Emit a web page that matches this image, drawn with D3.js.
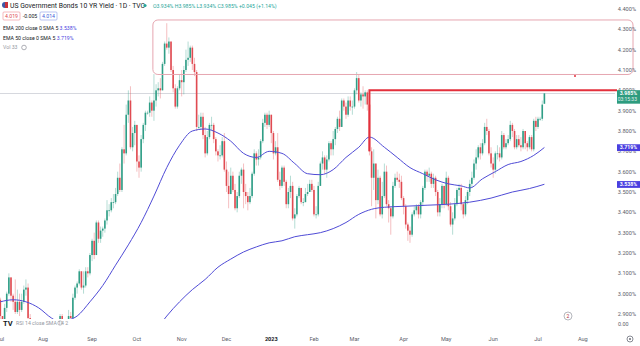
<!DOCTYPE html>
<html><head><meta charset="utf-8">
<script src="https://cdn.jsdelivr.net/npm/d3@7"></script>
<style>body{margin:0;background:#fff}svg{display:block;font-family:Roboto,"Noto Sans",sans-serif}</style>
</head><body><svg id="c" width="640" height="346"></svg>
<script>
// ---- data ----
const tradingDays = [
 ["2022-07",[1,5,6,7,8,11,12,13,14,15,18,19,20,21,22,25,26,27,28,29]],
 ["2022-08",[1,2,3,4,5,8,9,10,11,12,15,16,17,18,19,22,23,24,25,26,29,30,31]],
 ["2022-09",[1,2,6,7,8,9,12,13,14,15,16,19,20,21,22,23,26,27,28,29,30]],
 ["2022-10",[3,4,5,6,7,10,11,12,13,14,17,18,19,20,21,24,25,26,27,28,31]],
 ["2022-11",[1,2,3,4,7,8,9,10,11,14,15,16,17,18,21,22,23,25,28,29,30]],
 ["2022-12",[1,2,5,6,7,8,9,12,13,14,15,16,19,20,21,22,23,27,28,29,30]],
 ["2023-01",[3,4,5,6,9,10,11,12,13,17,18,19,20,23,24,25,26,27,30,31]],
 ["2023-02",[1,2,3,6,7,8,9,10,13,14,15,16,17,21,22,23,24,27,28]],
 ["2023-03",[1,2,3,6,7,8,9,10,13,14,15,16,17,20,21,22,23,24,27,28,29,30,31]],
 ["2023-04",[3,4,5,6,7,10,11,12,13,14,17,18,19,20,21,24,25,26,27,28]],
 ["2023-05",[1,2,3,4,5,8,9,10,11,12,15,16,17,18,19,22,23,24,25,26,30,31]],
 ["2023-06",[1,2,5,6,7,8,9,12,13,14,15,16,20,21,22,23,26,27,28,29,30]],
 ["2023-07",[3,4,5,6]]
];
const openV = [
 2.97,2.89,2.81,2.93,3.00,3.08,2.99,2.96,2.91,2.96,2.92,2.96,3.02,3.03,2.88,2.76,2.80,2.78,2.78,2.68,
 2.65,2.58,2.75,2.71,2.68,2.83,2.76,2.79,2.78,2.89,2.84,2.79,2.81,2.89,2.88,2.98,3.03,3.05,3.11,3.03,3.04,3.11,3.10,
 3.19,3.26,3.19,3.35,3.27,3.31,3.32,3.36,3.41,3.41,3.45,3.45,3.49,3.57,3.51,3.71,3.69,3.88,3.95,3.72,3.79,
 3.83,3.65,3.62,3.76,3.83,3.89,3.89,3.94,3.90,3.95,4.00,4.01,4.00,4.13,4.23,4.21,4.24,4.10,4.01,3.92,4.01,
 4.05,4.04,4.10,4.15,4.16,4.21,4.13,4.09,3.82,3.82,3.87,3.78,3.69,3.77,3.83,3.83,3.76,3.70,3.68,3.68,3.75,
 3.61,3.53,3.49,3.58,3.51,3.42,3.48,3.58,3.61,3.50,3.48,3.45,3.48,3.59,3.69,3.66,3.67,3.75,3.84,3.88,3.83,
 3.88,3.79,3.69,3.72,3.56,3.53,3.62,3.55,3.44,3.50,3.53,3.37,3.39,3.48,3.52,3.45,3.45,3.49,3.50,3.54,
 3.51,3.39,3.39,3.53,3.64,3.67,3.61,3.66,3.74,3.71,3.76,3.81,3.86,3.82,3.95,3.92,3.88,3.95,3.92,
 3.92,4.00,4.06,3.95,3.98,3.97,3.99,3.93,3.70,3.57,3.64,3.46,3.57,3.39,3.48,3.60,3.44,3.42,3.38,3.53,3.57,3.56,3.55,
 3.47,3.43,3.34,3.31,3.29,3.39,3.41,3.43,3.39,3.45,3.52,3.60,3.58,3.59,3.54,3.57,3.50,3.40,3.44,3.53,
 3.44,3.57,3.43,3.34,3.37,3.44,3.51,3.52,3.44,3.39,3.46,3.50,3.54,3.57,3.64,3.67,3.72,3.69,3.74,3.82,3.80,3.69,
 3.64,3.61,3.69,3.69,3.67,3.78,3.72,3.74,3.76,3.83,3.80,3.72,3.76,3.73,3.72,3.80,3.74,3.72,3.77,3.71,3.85,
 3.82,3.86,3.86,3.934
];
const highV = [
 2.98,2.89,2.95,3.01,3.10,3.08,3.00,3.07,3.02,3.00,3.00,3.04,3.07,3.05,2.90,2.83,2.84,2.85,2.80,2.73,
 2.67,2.78,2.79,2.73,2.86,2.85,2.80,2.81,2.90,2.90,2.86,2.83,2.92,2.91,3.00,3.04,3.06,3.12,3.11,3.11,3.13,3.13,3.20,
 3.27,3.30,3.36,3.36,3.33,3.33,3.37,3.46,3.44,3.47,3.49,3.52,3.60,3.64,3.72,3.83,3.93,4.00,4.02,3.82,3.85,
 3.83,3.68,3.78,3.84,3.90,3.90,3.97,3.95,4.08,4.03,4.04,4.06,4.14,4.24,4.33,4.26,4.24,4.12,4.03,4.02,4.08,
 4.10,4.12,4.20,4.24,4.22,4.22,4.16,4.10,3.88,3.89,3.89,3.82,3.80,3.84,3.87,3.84,3.77,3.71,3.73,3.77,3.79,
 3.65,3.60,3.62,3.60,3.54,3.50,3.60,3.62,3.64,3.54,3.50,3.52,3.60,3.71,3.70,3.71,3.76,3.86,3.89,3.89,3.90,
 3.88,3.80,3.75,3.79,3.60,3.63,3.63,3.56,3.52,3.58,3.55,3.42,3.49,3.53,3.52,3.47,3.52,3.54,3.56,3.56,
 3.53,3.43,3.55,3.65,3.70,3.68,3.68,3.75,3.75,3.80,3.82,3.87,3.90,3.96,3.96,3.94,3.97,3.97,3.95,
 4.01,4.09,4.08,3.99,4.02,4.00,4.00,3.94,3.72,3.71,3.64,3.61,3.58,3.55,3.64,3.63,3.46,3.43,3.55,3.59,3.60,3.59,3.58,
 3.48,3.44,3.35,3.33,3.40,3.43,3.44,3.44,3.46,3.53,3.61,3.61,3.62,3.60,3.59,3.58,3.51,3.47,3.54,3.53,
 3.60,3.58,3.45,3.40,3.47,3.52,3.54,3.54,3.45,3.48,3.51,3.56,3.60,3.66,3.71,3.73,3.74,3.76,3.84,3.86,3.81,3.72,
 3.67,3.70,3.73,3.72,3.80,3.79,3.76,3.78,3.85,3.84,3.81,3.78,3.78,3.77,3.81,3.80,3.75,3.78,3.78,3.86,3.87,
 3.87,3.87,3.95,3.985
];
const lowV = [
 2.79,2.75,2.77,2.91,2.99,2.96,2.92,2.90,2.90,2.89,2.91,2.95,2.99,2.86,2.74,2.74,2.78,2.74,2.65,2.64,
 2.57,2.52,2.69,2.61,2.67,2.75,2.74,2.69,2.74,2.82,2.76,2.76,2.80,2.84,2.87,2.97,3.00,3.04,3.02,3.00,3.03,3.08,3.09,
 3.16,3.17,3.19,3.25,3.25,3.28,3.30,3.34,3.38,3.40,3.42,3.44,3.48,3.50,3.50,3.64,3.68,3.84,3.71,3.70,3.73,
 3.60,3.57,3.60,3.74,3.80,3.88,3.87,3.87,3.85,3.92,3.97,3.96,4.00,4.12,4.20,4.18,4.09,3.99,3.91,3.91,4.00,
 3.97,3.98,4.09,4.12,4.14,4.10,4.07,3.80,3.81,3.81,3.76,3.67,3.68,3.76,3.80,3.74,3.68,3.65,3.66,3.67,3.60,
 3.50,3.42,3.49,3.50,3.41,3.40,3.47,3.54,3.42,3.44,3.41,3.44,3.47,3.58,3.63,3.63,3.66,3.74,3.82,3.81,3.82,
 3.74,3.66,3.68,3.55,3.51,3.52,3.53,3.42,3.42,3.47,3.36,3.32,3.38,3.47,3.44,3.43,3.45,3.48,3.50,3.50,
 3.38,3.37,3.38,3.53,3.61,3.59,3.57,3.65,3.68,3.68,3.73,3.79,3.80,3.82,3.90,3.86,3.87,3.90,3.88,
 3.91,3.98,3.94,3.92,3.91,3.93,3.90,3.68,3.43,3.51,3.37,3.44,3.38,3.37,3.47,3.43,3.35,3.29,3.37,3.52,3.55,3.52,3.46,
 3.39,3.32,3.26,3.25,3.28,3.38,3.39,3.37,3.37,3.43,3.51,3.55,3.55,3.52,3.52,3.48,3.38,3.38,3.42,3.42,
 3.43,3.41,3.33,3.29,3.36,3.43,3.48,3.41,3.37,3.38,3.44,3.48,3.52,3.56,3.61,3.66,3.66,3.68,3.73,3.78,3.68,3.62,
 3.57,3.59,3.66,3.65,3.66,3.71,3.71,3.73,3.75,3.77,3.71,3.71,3.72,3.70,3.71,3.71,3.70,3.71,3.70,3.70,3.80,
 3.81,3.85,3.85,3.934
];
const closeV = [
 2.89,2.81,2.93,3.00,3.08,2.99,2.96,2.91,2.96,2.92,2.96,3.02,3.03,2.88,2.76,2.80,2.78,2.78,2.68,2.65,
 2.58,2.75,2.71,2.68,2.83,2.76,2.79,2.78,2.89,2.84,2.79,2.81,2.89,2.88,2.98,3.03,3.05,3.11,3.03,3.04,3.11,3.10,3.19,
 3.26,3.19,3.35,3.27,3.31,3.32,3.36,3.41,3.41,3.45,3.45,3.49,3.57,3.51,3.71,3.69,3.88,3.95,3.72,3.79,3.83,
 3.65,3.62,3.76,3.83,3.89,3.89,3.94,3.90,3.95,4.00,4.01,4.00,4.13,4.23,4.21,4.24,4.10,4.01,3.92,4.01,4.05,
 4.04,4.10,4.15,4.16,4.21,4.13,4.09,3.82,3.82,3.87,3.78,3.69,3.77,3.83,3.83,3.76,3.70,3.68,3.68,3.75,3.61,
 3.53,3.49,3.58,3.51,3.42,3.48,3.58,3.61,3.50,3.48,3.45,3.48,3.59,3.69,3.66,3.67,3.75,3.84,3.88,3.83,3.88,
 3.79,3.69,3.72,3.56,3.53,3.62,3.55,3.44,3.50,3.53,3.37,3.39,3.48,3.52,3.45,3.45,3.49,3.50,3.54,3.51,
 3.39,3.39,3.53,3.64,3.67,3.61,3.66,3.74,3.71,3.76,3.81,3.86,3.82,3.95,3.92,3.88,3.95,3.92,3.92,
 4.00,4.06,3.95,3.98,3.97,3.99,3.93,3.70,3.57,3.64,3.46,3.57,3.39,3.48,3.60,3.44,3.42,3.38,3.53,3.57,3.56,3.55,3.47,
 3.43,3.34,3.31,3.29,3.39,3.41,3.43,3.39,3.45,3.52,3.60,3.58,3.59,3.54,3.57,3.50,3.40,3.44,3.53,3.44,
 3.57,3.43,3.34,3.37,3.44,3.51,3.52,3.44,3.39,3.46,3.50,3.54,3.57,3.64,3.67,3.72,3.69,3.74,3.82,3.80,3.69,3.64,
 3.61,3.69,3.69,3.67,3.78,3.72,3.74,3.76,3.83,3.80,3.72,3.76,3.73,3.72,3.80,3.74,3.72,3.77,3.71,3.85,3.82,
 3.86,3.86,3.93,3.985
];
// EMA readings (bar index, value)
const ema50Bar = [0,6,12,18,24,28,32,36,42,48,54,60,66,72,78,84,90,96,102,108,114,120,126,132,138,144,150,156,162,168,173,180,186,192,198,204,210,216,220,226,232,238,244,250,255];
const ema50Val = [2.96,2.97,2.96,2.93,2.88,2.86,2.87,2.89,2.96,3.04,3.14,3.24,3.35,3.48,3.62,3.73,3.80,3.81,3.79,3.75,3.69,3.67,3.70,3.69,3.64,3.59,3.585,3.61,3.67,3.72,3.77,3.72,3.67,3.62,3.59,3.56,3.54,3.53,3.52,3.565,3.60,3.635,3.65,3.68,3.719];
const ema200Bar = [75,78,84,90,96,102,108,114,120,126,132,138,144,150,156,162,168,174,180,190,200,210,220,230,240,248,255];
const ema200Val = [2.85,2.89,2.96,3.02,3.07,3.13,3.17,3.205,3.23,3.25,3.26,3.28,3.29,3.30,3.32,3.35,3.39,3.415,3.425,3.43,3.435,3.44,3.45,3.47,3.50,3.517,3.538];
const monthLabels = ["Jul","Aug","Sep","Oct","Nov","Dec","2023","Feb","Mar","Apr","May","Jun","Jul","Aug"];
const monthBar = [0,20,43,64,85,106,127,147,166,189,209,231,252,273];
const priceTicks = [4.4,4.3,4.2,4.1,4.0,3.9,3.8,3.7,3.6,3.5,3.4,3.3,3.2,3.1,3.0,2.9];
const lastPrice = 3.985, ema50Last = 3.719, ema200Last = 3.538;
const levelLine = 4.0, levelStartBar = 173, levelLowVal = 3.70;
const boxTop = 4.346, boxBottom = 4.078, boxStartBar = 71.5;

// ---- build ----
const dates = tradingDays.flatMap(([m, ds]) => ds.map(d => m + "-" + String(d).padStart(2, "0")));
const bars = dates.map((d, i) => ({d, i, o: openV[i], h: highV[i], l: lowV[i], c: closeV[i]}));

const svg = d3.select("#c");
const W = 640, H = 346, paneR = 615, paneB = 319;
const x = d3.scaleLinear().domain([0, 288]).range([0.33, 0.33 + 288 * 2.1336]);
const y = d3.scaleLinear().domain([2.9, 4.4]).range([314, 9]);

svg.append("rect").attr("width", W).attr("height", H).attr("fill", "#fff");
svg.append("defs").append("clipPath").attr("id", "pane")
  .append("rect").attr("x", 0).attr("y", 0).attr("width", paneR).attr("height", paneB);
const g = svg.append("g").attr("clip-path", "url(#pane)");

// price line
g.append("line").attr("x1", 0).attr("x2", paneR).attr("y1", Math.round(y(lastPrice)) + 0.5).attr("y2", Math.round(y(lastPrice)) + 0.5)
  .attr("stroke", "#d6d8de").attr("stroke-width", 1);

// rectangle drawing
svg.append("rect").attr("x", x(boxStartBar)).attr("y", y(boxTop))
  .attr("width", 633 - x(boxStartBar)).attr("height", y(boxBottom) - y(boxTop))
  .attr("rx", 5).attr("fill", "none").attr("stroke", "#e6a6b0").attr("stroke-width", 1);

const up = "#2f9e86", dn = "#e04b52";
const cg = g.append("g");
cg.selectAll("line").data(bars).join("line")
  .attr("x1", b => x(b.i)).attr("x2", b => x(b.i))
  .attr("y1", b => y(b.h)).attr("y2", b => y(b.l))
  .attr("stroke", b => b.c >= b.o ? up : dn).attr("stroke-opacity", 0.45).attr("stroke-width", 0.8);
cg.selectAll("rect").data(bars).join("rect")
  .attr("x", b => x(b.i) - 0.8).attr("width", 1.6)
  .attr("y", b => y(Math.max(b.o, b.c)))
  .attr("height", b => Math.max(0.8, Math.abs(y(b.o) - y(b.c))))
  .attr("fill", b => b.c >= b.o ? up : dn);

// EMAs
const lineGen = d3.line().x(d => x(d[0])).y(d => y(d[1])).curve(d3.curveMonotoneX);
g.append("path").datum(ema50Bar.map((b, i) => [b, ema50Val[i]])).attr("d", lineGen)
  .attr("fill", "none").attr("stroke", "#4f4bd6").attr("stroke-width", 1);
g.append("path").datum(ema200Bar.map((b, i) => [b, ema200Val[i]])).attr("d", lineGen)
  .attr("fill", "none").attr("stroke", "#4f4bd6").attr("stroke-width", 1);

// red level path
svg.append("path")
  .attr("d", `M${x(levelStartBar)},${y(levelLowVal)}V${y(levelLine)}H${paneR + 2}`)
  .attr("fill", "none").attr("stroke", "#e3303c").attr("stroke-width", 2);
svg.append("circle").attr("cx", 575).attr("cy", 76).attr("r", 1).attr("fill", "#e3303c");

// price axis
const pa = svg.append("g").attr("font-size", 5.6).attr("fill", "#5d606b").attr("text-anchor", "end");
pa.selectAll("text").data(priceTicks).join("text")
  .attr("x", 636).attr("y", v => y(v) + 2).text(v => v.toFixed(3) + "%");

function tag(v, fill, lbl, sub) {
  const yy = y(v);
  const h = sub ? 13.5 : 6.8;
  svg.append("rect").attr("x", 617).attr("y", yy - 3.2).attr("width", 23).attr("height", h).attr("fill", fill);
  svg.append("text").attr("x", 637).attr("y", yy + 1.9).attr("text-anchor", "end")
    .attr("font-size", 5.2).attr("fill", "#fff").attr("font-weight", "bold").text(lbl);
  if (sub) svg.append("text").attr("x", 637).attr("y", yy + 7.8).attr("text-anchor", "end")
    .attr("font-size", 5).attr("fill", "#e0f2ef").text(sub);
}
tag(lastPrice, "#2e9c7f", lastPrice.toFixed(3) + "%", "03:15:33");
tag(ema50Last, "#4a3fe0", ema50Last.toFixed(3) + "%");
tag(ema200Last, "#4a3fe0", ema200Last.toFixed(3) + "%");

// time axis
const ta = svg.append("g").attr("font-size", 5.6).attr("fill", "#5d606b").attr("text-anchor", "middle");
ta.selectAll("text").data(monthLabels).join("text")
  .attr("x", (m, i) => x(monthBar[i])).attr("y", 341)
  .attr("font-weight", m => m === "2023" ? "bold" : null)
  .attr("fill", m => m === "2023" ? "#131722" : "#5d606b").text(m => m);
// gear icon
svg.append("circle").attr("cx", 630).attr("cy", 339).attr("r", 3).attr("fill", "none").attr("stroke", "#6a6d78").attr("stroke-width", 0.8);
svg.append("circle").attr("cx", 630).attr("cy", 339).attr("r", 1).attr("fill", "#6a6d78");

// lower pane labels
svg.append("text").attr("x", 618).attr("y", 326).attr("font-size", 5.4).attr("fill", "#5d606b").text("0.00");
svg.append("text").attr("x", 3).attr("y", 326).attr("font-size", 7.5).attr("font-weight", "bold").attr("fill", "#131722").text("TV");
svg.append("text").attr("x", 16).attr("y", 325).attr("font-size", 5.2).attr("fill", "#9598a1").text("RSI 14 close SMA 14 2");
svg.append("circle").attr("cx", 60).attr("cy", 323).attr("r", 2.2).attr("fill", "none").attr("stroke", "#9598a1").attr("stroke-width", 0.6);
// circle marker
svg.append("circle").attr("cx", 568).attr("cy", 316).attr("r", 4).attr("fill", "#fff").attr("stroke", "#9598a1").attr("stroke-width", 0.7);
svg.append("text").attr("x", 568).attr("y", 318).attr("text-anchor", "middle").attr("font-size", 5).attr("fill", "#b22833").text("2");

// header
const hd = svg.append("g");
hd.append("rect").attr("x", 2).attr("y", 2).attr("width", 6).attr("height", 6).attr("rx", 3).attr("fill", "#3c5aa8");
hd.append("rect").attr("x", 5).attr("y", 2).attr("width", 3).attr("height", 6).attr("fill", "#c8323c");
hd.append("text").attr("x", 10).attr("y", 7.5).attr("font-size", 6.8).attr("fill", "#131722")
  .text("US Government Bonds 10 YR Yield · 1D · TVC");
hd.append("circle").attr("cx", 145).attr("cy", 5.5).attr("r", 1.6).attr("fill", "#26a69a");
hd.append("text").attr("x", 153).attr("y", 7.5).attr("font-size", 5.2).attr("fill", "#26a69a")
  .text("O3.934% H3.985% L3.934% C3.985% +0.045 (+1.14%)");
// row 2
hd.append("rect").attr("x", 3).attr("y", 12).attr("width", 17).attr("height", 8).attr("rx", 1).attr("fill", "#fff").attr("stroke", "#ef8a90").attr("stroke-width", 0.6);
hd.append("text").attr("x", 11.5).attr("y", 18).attr("text-anchor", "middle").attr("font-size", 5.2).attr("fill", "#e04650").text("4.019");
hd.append("text").attr("x", 30).attr("y", 18).attr("text-anchor", "middle").attr("font-size", 5.2).attr("fill", "#131722").text("-0.005");
hd.append("rect").attr("x", 40).attr("y", 12).attr("width", 17).attr("height", 8).attr("rx", 1).attr("fill", "#fff").attr("stroke", "#8a9ae8").attr("stroke-width", 0.6);
hd.append("text").attr("x", 48.5).attr("y", 18).attr("text-anchor", "middle").attr("font-size", 5.2).attr("fill", "#3c5ad8").text("4.014");
// indicators
hd.append("text").attr("x", 3).attr("y", 30).attr("font-size", 5.2).attr("fill", "#131722")
  .text("EMA 200 close 0 SMA 5 ").append("tspan").attr("fill", "#4a3fe0").text(ema200Last.toFixed(3) + "%");
hd.append("text").attr("x", 3).attr("y", 40).attr("font-size", 5.2).attr("fill", "#131722")
  .text("EMA 50 close 0 SMA 5 ").append("tspan").attr("fill", "#4a3fe0").text(ema50Last.toFixed(3) + "%");
hd.append("text").attr("x", 3).attr("y", 49).attr("font-size", 5.2).attr("fill", "#9598a1").text("Vol 33");
hd.append("circle").attr("cx", 24).attr("cy", 47.5).attr("r", 2.3).attr("fill", "none").attr("stroke", "#787b86").attr("stroke-width", 0.6);
</script></body></html>
